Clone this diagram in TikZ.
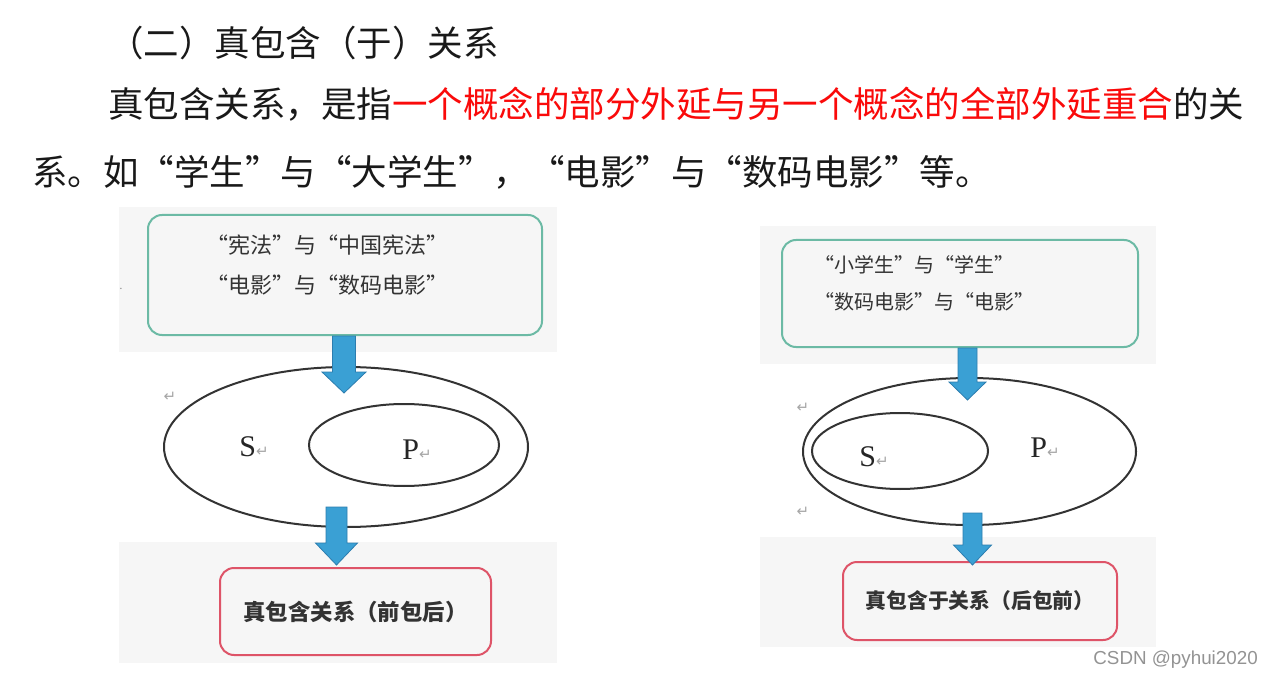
\documentclass[tikz,border=0pt]{standalone}
\usepackage{fontspec}
\setmainfont{Noto Sans CJK SC}
\newfontfamily\termfont{Liberation Serif}
\newfontfamily\symfont{DejaVu Sans}
\newfontfamily\markfont{Liberation Sans}
\usetikzlibrary{shapes.geometric,calc}
\definecolor{panelgray}{RGB}{246,246,246}
\definecolor{boxteal}{RGB}{108,186,165}
\definecolor{boxred}{RGB}{222,84,104}
\definecolor{arrowblue}{RGB}{58,160,212}
\definecolor{arrowedge}{RGB}{44,125,175}
\definecolor{inkgray}{RGB}{51,51,51}
\definecolor{defred}{RGB}{250,10,10}
\newcommand\retmark{{\symfont\fontsize{7.5pt}{7.5pt}\selectfont\color{gray!70}↵}}
% start, tip, shaft half width, head half width, head length
\newcommand\fatarrow[5]{%
  \filldraw[arrowblue, draw=arrowedge, line width=0.4pt]
    ($(#1)+(-#3,0)$) -- ($(#2)+(-#3,-#5)$) -- ($(#2)+(-#4,-#5)$) -- (#2)
    -- ($(#2)+(#4,-#5)$) -- ($(#2)+(#3,-#5)$) -- ($(#1)+(#3,0)$) -- cycle;}

\begin{document}
\begin{tikzpicture}[x=0.5pt,y=-0.5pt,
    bodytext/.style={anchor=west, inner sep=0, text=black!90,
      font=\fontsize{17.75pt}{20pt}\selectfont},
    conceptbox/.style={draw=boxteal, line width=1pt, rounded corners=7pt, inner sep=0},
    resultbox/.style={draw=boxred, line width=1pt, rounded corners=7pt, inner sep=0,
      text=inkgray, font=\bfseries\fontsize{11.2pt}{12pt}\selectfont},
    pairtext/.style={inner sep=0, text=inkgray},
    setring/.style={ellipse, draw=inkgray, line width=1pt, inner sep=0},
    termtext/.style={anchor=west, inner sep=0, text=black!85,
      font=\termfont\fontsize{15pt}{15pt}\selectfont}]
    \useasboundingbox (0,0) rectangle (1274,679);
    \fill[white] (0,0) rectangle (1274,679);

    % heading and paragraph
    \node[bodytext] (head) at (108,43) {（二）真包含（于）关系};
    \node[bodytext] (defn) at (108,104)
      {真包含关系，是指\textcolor{defred}{一个概念的部分外延与另一个概念的全部外延重合}的关};
    \node[bodytext] (eg) at (32,172) {系。如“学生”与“大学生”，“电影”与“数码电影”等。};

    % picture panels
    \fill[panelgray] (119,207) rectangle (557,352);
    \fill[panelgray] (119,542) rectangle (557,663);
    \fill[panelgray] (760,226) rectangle (1156,364);
    \fill[panelgray] (760,537) rectangle (1156,647);

    % left: S contains P
    \node[conceptbox, minimum width=197pt, minimum height=60pt] (topL) at (345,275) {};
    \node[pairtext, align=center, font=\fontsize{11pt}{20pt}\selectfont] (pairsL) at (327,265)
      {“宪法”与“中国宪法”\\“电影”与“数码电影”};
    \node[setring, minimum width=182pt, minimum height=80pt] (outerL) at (346,447) {};
    \node[setring, minimum width=95pt, minimum height=41pt] (innerL) at (404,445) {};
    \node[termtext] (sL) at (239,447) {S\retmark};
    \node[termtext] (pL) at (402,450) {P\retmark};
    \node[resultbox, minimum width=135.5pt, minimum height=43.5pt] (botL) at (355.5,611.5)
      {真包含关系（前包后）};
    \coordinate (tipA) at (344,393);
    \coordinate (startA) at (topL.south -| tipA);
    \fatarrow{startA}{tipA}{11.5}{22}{21}
    \coordinate (tipB) at (336.5,565);
    \coordinate (startB) at (336.5,507);
    \fatarrow{startB}{tipB}{10.5}{21}{22}

    % right: S contained in P
    \node[conceptbox, minimum width=178pt, minimum height=53.5pt] (topR) at (960,293.5) {};
    \node[pairtext, anchor=west, align=left, font=\fontsize{10pt}{18.5pt}\selectfont] (pairsR) at (814,283.5)
      {“小学生”与“学生”\\“数码电影”与“电影”};
    \node[setring, minimum width=166.5pt, minimum height=73.5pt] (outerR) at (969.5,451.5) {};
    \node[setring, minimum width=88pt, minimum height=38pt] (innerR) at (900,451) {};
    \node[termtext] (sR) at (859,457) {S\retmark};
    \node[termtext] (pR) at (1030,448) {P\retmark};
    \node[resultbox, minimum width=137pt, minimum height=39pt,
      font=\bfseries\fontsize{10.4pt}{12pt}\selectfont] (botR) at (980,601)
      {真包含于关系（后包前）};
    \coordinate (tipC) at (967.5,400);
    \coordinate (startC) at (topR.south -| tipC);
    \fatarrow{startC}{tipC}{9.5}{18.5}{18}
    \coordinate (tipD) at (972.5,565);
    \coordinate (startD) at (972.5,513);
    \fatarrow{startD}{tipD}{9.5}{19}{20}

    % stray marks
    \foreach \pos/\nm in {(170,397)/retA,(803,408)/retB,(803,512)/retC}
        \node[inner sep=0] (\nm) at \pos {\retmark};
    \node[inner sep=0, text=gray] (dotL) at (121,289) {\tiny .};

    \node[anchor=west, inner sep=0, text=gray!85,
      font=\markfont\fontsize{9.4pt}{10pt}\selectfont] (mark) at (1093,660) {CSDN @pyhui2020};
\end{tikzpicture}
\end{document}
